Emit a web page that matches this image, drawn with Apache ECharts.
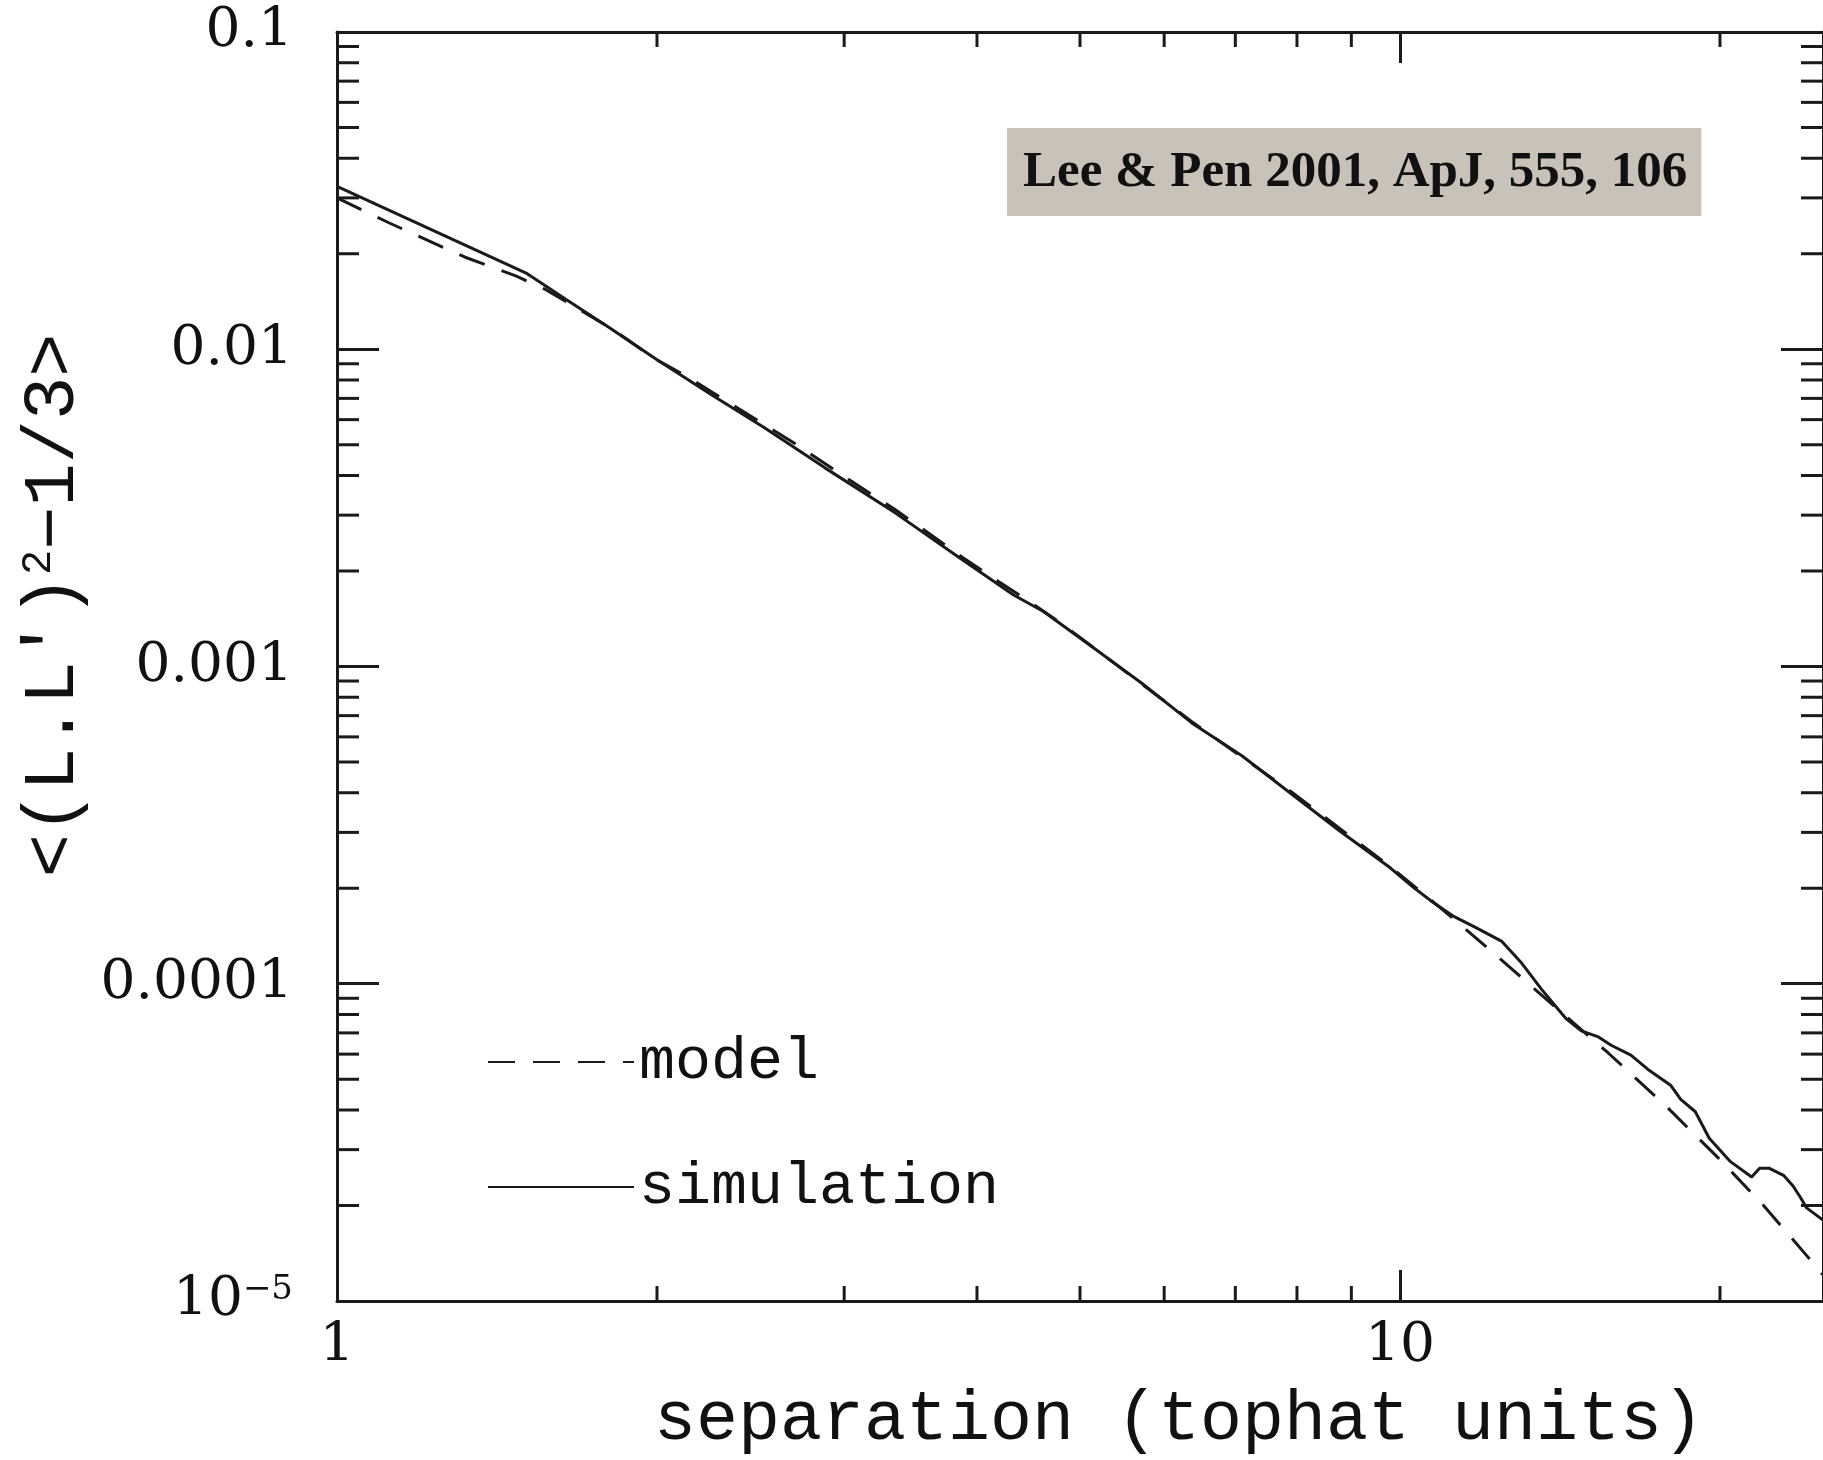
<!DOCTYPE html>
<html>
<head>
<meta charset="utf-8">
<script src="https://cdn.jsdelivr.net/npm/echarts@6/dist/echarts.min.js"></script>
<style>
html, body { margin: 0; padding: 0; background: #fff; }
#main { width: 1823px; height: 1460px; }
</style>
</head>
<body>
<div id="main"></div>
<script>
// values: separation (tophat units) vs <(L.L')^2 - 1/3>
var simSep = [1.0, 1.51, 1.64, 1.80, 2.00, 2.26, 2.52, 2.88, 3.35, 3.86, 4.33, 4.62, 5.14, 5.72, 6.37, 7.10, 7.90, 8.79, 9.79,
    10.28, 10.73, 11.20, 11.80, 12.47, 13.02, 13.59, 14.31, 14.81, 15.37, 15.80, 16.49, 17.10, 17.97, 18.37, 18.96, 19.54,
    20.43, 21.42, 21.79, 22.26, 22.95, 23.44, 23.85, 24.11, 25.0];
var simVal = [0.0326, 0.0173, 0.0144, 0.01175, 0.00926, 0.00712, 0.00568, 0.00422, 0.00305, 0.00219, 0.00168, 0.00149,
    0.00115, 0.000884, 0.000664, 0.000523, 0.000397, 0.000302, 0.000232,
    0.000202, 0.000181, 0.000164, 0.000150, 0.000136, 0.000116, 9.6e-5, 7.8e-5, 7.1e-5, 6.8e-5, 6.4e-5, 5.96e-5, 5.38e-5,
    4.79e-5, 4.32e-5, 3.95e-5, 3.26e-5, 2.76e-5, 2.46e-5, 2.62e-5, 2.62e-5, 2.49e-5, 2.30e-5, 2.10e-5, 1.97e-5, 1.8e-5];

var modelSep = [1.0, 1.12, 1.32, 1.475, 1.568, 1.696, 1.823, 1.986, 2.133, 2.308, 2.488, 2.682, 2.891, 3.117, 3.347,
    3.608, 3.890, 4.194, 4.504, 4.838, 5.196, 6.37, 7.90, 9.79, 11.13, 12.31, 14.01, 15.70, 17.85, 20.0, 21.98, 24.11, 25.0];
var modelVal = [0.0300, 0.0250, 0.0195, 0.0170, 0.01548, 0.01325, 0.01148, 0.00938, 0.00822, 0.00696, 0.00596, 0.00510,
    0.00432, 0.00365, 0.00313, 0.00262, 0.00219, 0.00185, 0.001584, 0.001341, 0.001121, 0.000670, 0.000403, 0.000234,
    0.0001644, 0.000123, 8.43e-5, 6.05e-5, 4.07e-5, 2.79e-5, 2.00e-5, 1.395e-5, 1.21e-5];

var xMin = 1, xMax = 25, yMin = 1e-5, yMax = 0.1;
var xTickVals = [1, 10];
var xTickLabels = ['1', '10'];
var yTickVals = [1e-5, 1e-4, 1e-3, 1e-2, 0.1];
var yTickLabels = ['{b|10}{s|\u22125}', '{b|0.0001}', '{b|0.001}', '{b|0.01}', '{b|0.1}'];
var xMinorTicks = [2, 3, 4, 5, 6, 7, 8, 9, 20];
var yMinorTicks = [];
[1e-5, 1e-4, 1e-3, 1e-2].forEach(function (d) {
    for (var k = 2; k <= 9; k++) yMinorTicks.push(+(k * d).toPrecision(3));
});

var citation = 'Lee & Pen 2001, ApJ, 555, 106';
var mono = "'Liberation Mono', 'DejaVu Sans Mono', monospace";
var serif = "'DejaVu Serif', 'Liberation Serif', serif";
var ink = '#1a1a1a';

function pairs(xs, ys) {
    var out = [];
    for (var i = 0; i < xs.length; i++) out.push([xs[i], ys[i]]);
    return out;
}

function pickLabel(vals, labels, v) {
    for (var i = 0; i < vals.length; i++) {
        if (Math.abs(Math.log10(v) - Math.log10(vals[i])) < 1e-6) return labels[i];
    }
    return '';
}

function tickLine(x1, y1, x2, y2) {
    return { type: 'line', shape: { x1: x1, y1: y1, x2: x2, y2: y2 }, style: { stroke: ink, lineWidth: 3 } };
}

var myChart = echarts.init(document.getElementById('main'));

myChart.setOption({
    animation: false,
    backgroundColor: '#fff',
    title: {
        text: citation,
        left: 1007,
        top: 128,
        backgroundColor: '#c9c2b8',
        padding: [19, 14, 17, 16],
        textStyle: {
            fontFamily: "'Liberation Serif', 'DejaVu Serif', serif",
            fontWeight: 'bold',
            fontSize: 51,
            lineHeight: 52,
            color: '#111'
        }
    },
    legend: {
        data: ['model', 'simulation'],
        orient: 'vertical',
        left: 487,
        top: 1032,
        padding: 0,
        itemGap: 65,
        itemWidth: 146,
        itemHeight: 20,
        itemStyle: { opacity: 0, color: 'rgba(0,0,0,0)', borderWidth: 0 },
        textStyle: { fontFamily: mono, fontSize: 60, color: '#111' }
    },
    grid: { left: 337, right: -16, top: 32, bottom: 141 },
    xAxis: [{
        type: 'log',
        logBase: 10,
        min: xMin,
        max: xMax,
        position: 'bottom',
        name: 'separation (tophat units)',
        nameLocation: 'middle',
        nameGap: 84,
        nameTextStyle: { fontFamily: mono, fontSize: 70, color: '#111', padding: [0, 0, 0, 198] },
        axisLine: { lineStyle: { color: ink, width: 3 } },
        axisTick: { inside: true, length: 31, lineStyle: { color: ink, width: 3 } },
        axisLabel: {
            margin: 18,
            showMaxLabel: false,
            fontFamily: serif,
            fontSize: 55,
            color: '#111',
            formatter: function (v) { return pickLabel(xTickVals, xTickLabels, v); }
        },
        splitLine: { show: false },
        minorTick: { show: false }
    }, {
        type: 'log',
        logBase: 10,
        min: xMin,
        max: xMax,
        position: 'top',
        axisLine: { lineStyle: { color: ink, width: 3 } },
        axisTick: { inside: true, length: 31, lineStyle: { color: ink, width: 3 } },
        axisLabel: { show: false },
        splitLine: { show: false }
    }],
    yAxis: [{
        type: 'log',
        logBase: 10,
        min: yMin,
        max: yMax,
        position: 'left',
        name: '{b|<(L.L\u2032)}{s|2}{b|\u22121/3>}',
        nameLocation: 'middle',
        nameRotate: 90,
        nameGap: 226,
        nameTextStyle: {
            padding: [0, 0, 0, 122],
            rich: {
                b: { fontFamily: mono, fontSize: 72, color: '#111' },
                s: { fontFamily: mono, fontSize: 42, color: '#111', verticalAlign: 'top' }
            }
        },
        axisLine: { lineStyle: { color: ink, width: 3 } },
        axisTick: { inside: true, length: 42, lineStyle: { color: ink, width: 3 } },
        axisLabel: {
            margin: 44,
            formatter: function (v) { return pickLabel(yTickVals, yTickLabels, v); },
            rich: {
                b: { fontFamily: serif, fontSize: 55, color: '#111' },
                s: { fontFamily: serif, fontSize: 34, color: '#111', verticalAlign: 'top' }
            }
        },
        splitLine: { show: false }
    }, {
        type: 'log',
        logBase: 10,
        min: yMin,
        max: yMax,
        position: 'right',
        axisLine: { lineStyle: { color: ink, width: 3 } },
        axisTick: { inside: true, length: 42, lineStyle: { color: ink, width: 3 } },
        axisLabel: { show: false },
        splitLine: { show: false }
    }],
    series: [{
        name: 'model',
        type: 'line',
        xAxisIndex: 0,
        yAxisIndex: 0,
        data: pairs(modelSep, modelVal),
        symbol: 'none',
        lineStyle: { color: ink, width: 3, type: [27, 18] },
        itemStyle: { color: ink }
    }, {
        name: 'simulation',
        type: 'line',
        xAxisIndex: 0,
        yAxisIndex: 0,
        data: pairs(simSep, simVal),
        symbol: 'none',
        lineStyle: { color: ink, width: 3 },
        itemStyle: { color: ink }
    }, {
        // minor ticks on the bottom and top axes
        type: 'custom',
        silent: true,
        xAxisIndex: 0,
        yAxisIndex: 0,
        data: xMinorTicks.map(function (v) { return [v, yMin]; }),
        renderItem: function (params, api) {
            var b = api.coord([api.value(0), yMin]);
            var t = api.coord([api.value(0), yMax]);
            return { type: 'group', children: [
                tickLine(b[0], b[1], b[0], b[1] - 15),
                tickLine(t[0], t[1], t[0], t[1] + 15)
            ] };
        }
    }, {
        // minor ticks on the left and right axes
        type: 'custom',
        silent: true,
        xAxisIndex: 0,
        yAxisIndex: 0,
        data: yMinorTicks.map(function (v) { return [xMin, v]; }),
        renderItem: function (params, api) {
            var l = api.coord([xMin, api.value(1)]);
            var r = api.coord([xMax, api.value(1)]);
            return { type: 'group', children: [
                tickLine(l[0], l[1], l[0] + 22, l[1]),
                tickLine(r[0], r[1], r[0] - 22, r[1])
            ] };
        }
    }]
});
window.onresize = myChart.resize;
</script>
</body>
</html>
